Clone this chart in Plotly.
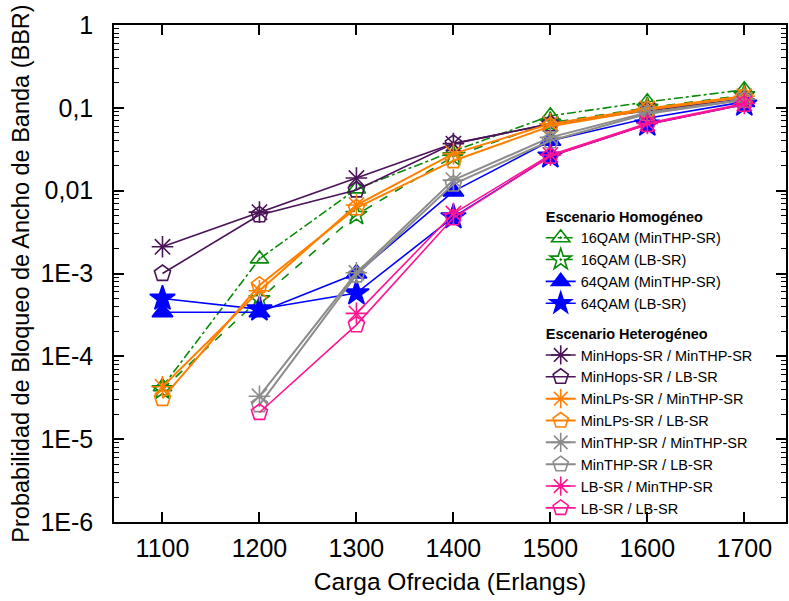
import plotly.graph_objects as go

x = [1100, 1200, 1300, 1400, 1500, 1600, 1700]

# Escenario Homogéneo
qam16_minthp = [4.3e-5, 1.5e-3, 1.05e-2, 0.030, 0.080, 0.118, 0.165]
qam16_lb = [4.0e-5, 4.9e-4, 5.1e-3, 0.026, 0.066, 0.100, 0.142]
qam64_minthp = [3.4e-4, 3.4e-4, 1.0e-3, 0.0098, 0.040, 0.075, 0.118]
qam64_lb = [5.0e-4, 3.7e-4, 5.8e-4, 4.8e-3, 0.026, 0.063, 0.110]

# Escenario Heterogéneo
minhops_minthp = [2.1e-3, 5.5e-3, 0.0142, 0.037, 0.064, 0.094, 0.128]
minhops_lb = [1.0e-3, 5.1e-3, 0.0102, 0.037, 0.064, 0.092, 0.126]
minlps_minthp = [4.3e-5, 6.2e-4, 6.7e-3, 0.028, 0.064, 0.098, 0.138]
minlps_lb = [3.1e-5, 7.2e-4, 6.2e-3, 0.023, 0.060, 0.095, 0.135]
minthp_minthp = [None, 3.3e-5, 1.02e-3, 0.0134, 0.044, 0.088, 0.126]
minthp_lb = [None, 2.6e-5, 9.6e-4, 0.0120, 0.040, 0.085, 0.124]
lb_minthp = [None, None, 3.3e-4, 5.3e-3, 0.027, 0.065, 0.113]
lb_lb = [None, 2.1e-5, 2.4e-4, 4.7e-3, 0.026, 0.063, 0.110]

ytickvals = [1, 0.1, 0.01, 1e-3, 1e-4, 1e-5, 1e-6]
yticktext = ["1", "0,1", "0,01", "1E-3", "1E-4", "1E-5", "1E-6"]
xticks = [1100, 1200, 1300, 1400, 1500, 1600, 1700]

PURPLE = "#4a1458"
ORANGE = "#ff8000"
GRAY = "#8c8c8c"
PINK = "#ff1493"
GREEN = "#0a8a0a"
BLUE = "#0000ff"

series = [
    ("hom", "16QAM (MinTHP-SR)", qam16_minthp, GREEN, "dashdot", "triangle-up-open-dot", 16, 1.6),
    ("hom", "16QAM (LB-SR)", qam16_lb, GREEN, "dash", "star-open-dot", 16, 1.6),
    ("hom", "64QAM (MinTHP-SR)", qam64_minthp, BLUE, "solid", "triangle-up", 18, 1.6),
    ("hom", "64QAM (LB-SR)", qam64_lb, BLUE, "solid", "star", 19, 1.6),
    ("het", "MinHops-SR / MinTHP-SR", minhops_minthp, PURPLE, "solid", "asterisk-open", 18, 1.6),
    ("het", "MinHops-SR / LB-SR", minhops_lb, PURPLE, "solid", "pentagon-open", 17, 1.6),
    ("het", "MinLPs-SR / MinTHP-SR", minlps_minthp, ORANGE, "solid", "asterisk-open", 18, 2.0),
    ("het", "MinLPs-SR / LB-SR", minlps_lb, ORANGE, "solid", "pentagon-open", 17, 2.0),
    ("het", "MinTHP-SR / MinTHP-SR", minthp_minthp, GRAY, "solid", "asterisk-open", 18, 2.0),
    ("het", "MinTHP-SR / LB-SR", minthp_lb, GRAY, "solid", "pentagon-open", 17, 2.0),
    ("het", "LB-SR / MinTHP-SR", lb_minthp, PINK, "solid", "asterisk-open", 18, 1.6),
    ("het", "LB-SR / LB-SR", lb_lb, PINK, "solid", "pentagon-open", 17, 1.6),
]

group_titles = {"hom": "<b>Escenario Homogéneo</b>", "het": "<b>Escenario Heterogéneo</b>"}

fig = go.Figure()
seen = set()
for grp, name, ys, col, dash, sym, size, lw in series:
    kw = {}
    if grp not in seen:
        kw["legendgrouptitle"] = dict(text=group_titles[grp], font=dict(size=14.5, color="black"))
        seen.add(grp)
    fig.add_trace(go.Scatter(
        x=x, y=ys, name=name, mode="lines+markers",
        legendgroup=grp,
        line=dict(color=col, width=lw, dash=dash),
        marker=dict(symbol=sym, size=size, color=col, line=dict(color=col, width=1.6)),
        connectgaps=False,
        **kw,
    ))

minor_vals = [m * 10 ** e for e in range(-6, 0) for m in range(2, 10)]

fig.update_layout(
    width=789, height=601,
    paper_bgcolor="white", plot_bgcolor="white",
    margin=dict(l=114, r=1, t=25, b=79),
    font=dict(family="Liberation Sans, Arial, sans-serif", color="black"),
    legend=dict(
        x=0.635, y=0.648, xanchor="left", yanchor="top",
        bgcolor="rgba(0,0,0,0)", font=dict(size=14.5, color="black"),
        tracegroupgap=8, groupclick="toggleitem",
        itemsizing="trace",
    ),
    showlegend=True,
)

fig.update_xaxes(
    range=[1050, 1743], tickvals=xticks,
    ticks="inside", ticklen=10, tickwidth=1.5, tickcolor="black",
    showline=True, linecolor="black", linewidth=1.5, mirror="ticks",
    showgrid=False, zeroline=False,
    tickfont=dict(size=25, color="black"),
    ticklabelstandoff=3,
    title=dict(text="Carga Ofrecida (Erlangs)", font=dict(size=24.5, color="black"), standoff=12),
)
fig.update_yaxes(
    type="log", range=[-6, 0],
    tickvals=ytickvals, ticktext=yticktext,
    ticks="inside", ticklen=10, tickwidth=1.5, tickcolor="black",
    minor=dict(tickvals=minor_vals, ticks="inside", ticklen=5, tickwidth=1, tickcolor="black", showgrid=False),
    showline=True, linecolor="black", linewidth=1.5, mirror="ticks",
    showgrid=False, zeroline=False,
    tickfont=dict(size=25, color="black"),
    ticklabelstandoff=14,
    title=dict(text="Probabilidad de Bloqueo de Ancho de Banda (BBR)", font=dict(size=23.5, color="black"), standoff=4),
)

fig.write_html("out.html")
